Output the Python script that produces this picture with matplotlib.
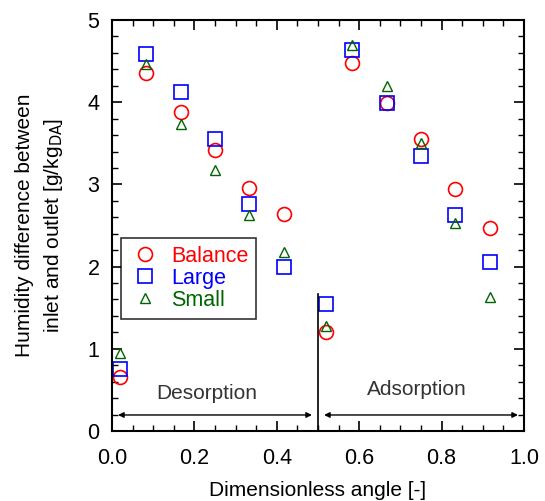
import matplotlib.pyplot as plt
from matplotlib.ticker import MultipleLocator

plt.rcParams["font.family"] = ["Liberation Sans", "DejaVu Sans"]

# dimensionless angle of each measurement
angle = [0.02, 0.083, 0.167, 0.25, 0.333, 0.417, 0.52, 0.583, 0.667, 0.75, 0.833, 0.917]

# humidity difference [g/kg_DA]
balance = [0.66, 4.35, 3.88, 3.42, 2.96, 2.64, 1.20, 4.48, 3.99, 3.55, 2.94, 2.47]
large = [0.75, 4.59, 4.13, 3.55, 2.76, 1.99, 1.55, 4.63, 3.99, 3.34, 2.63, 2.06]
small = [0.95, 4.47, 3.74, 3.18, 2.63, 2.18, 1.28, 4.70, 4.20, 3.51, 2.53, 1.63]

fig = plt.figure(figsize=(5.45, 5.01), dpi=100)
ax = fig.add_axes([0.2055, 0.1397, 0.756, 0.8203])

ax.plot(angle, balance, "o", mfc="none", mec="red", ms=10, mew=1.2, label="Balance")
ax.plot(angle, large, "s", mfc="none", mec="blue", ms=10, mew=1.2, label="Large")
ax.plot(angle, small, "^", mfc="none", mec="darkgreen", ms=7, mew=1.0, label="Small")

# desorption / adsorption split
ax.plot([0.5, 0.5], [0, 1.67], color="black", lw=1.2)
ax.annotate("", xy=(0.008, 0.195), xytext=(0.492, 0.195),
            arrowprops=dict(arrowstyle="<|-|>", color="black", lw=1, mutation_scale=8))
ax.annotate("", xy=(0.508, 0.195), xytext=(0.992, 0.195),
            arrowprops=dict(arrowstyle="<|-|>", color="black", lw=1, mutation_scale=8))
ax.text(0.23, 0.46, "Desorption", ha="center", va="center", fontsize=15, color="#333333")
ax.text(0.74, 0.5, "Adsorption", ha="center", va="center", fontsize=15, color="#333333")

ax.set_xlim(0, 1.0)
ax.set_ylim(0, 5)
ax.xaxis.set_major_locator(MultipleLocator(0.2))
ax.xaxis.set_minor_locator(MultipleLocator(0.05))
ax.yaxis.set_major_locator(MultipleLocator(1))
ax.yaxis.set_minor_locator(MultipleLocator(0.2))
ax.xaxis.set_major_formatter(lambda v, p: f"{v:.1f}")
ax.tick_params(which="both", direction="in", top=True, right=True, labelsize=15.5)
ax.tick_params(which="major", length=7, width=1.2)
ax.tick_params(which="minor", length=4, width=1.0)
ax.tick_params(axis="x", pad=12)
ax.tick_params(axis="y", pad=9)
for s in ax.spines.values():
    s.set_linewidth(1.5)

ax.set_xlabel("Dimensionless angle [-]", fontsize=15, labelpad=9)
ax.set_ylabel("Humidity difference between\ninlet and outlet [g/kg$_{\\mathrm{DA}}$]",
              fontsize=15, labelpad=16, linespacing=1.5)

leg = ax.legend(loc="upper left", bbox_to_anchor=(-0.005, 0.495), fontsize=15.5, frameon=True,
                fancybox=False, edgecolor="black", handletextpad=0.4, borderpad=0.35,
                labelspacing=0.05, handlelength=1.6)
leg.get_frame().set_linewidth(1.2)
for t, c in zip(leg.get_texts(), ["red", "blue", "darkgreen"]):
    t.set_color(c)

fig.savefig("out.png", dpi=100)
